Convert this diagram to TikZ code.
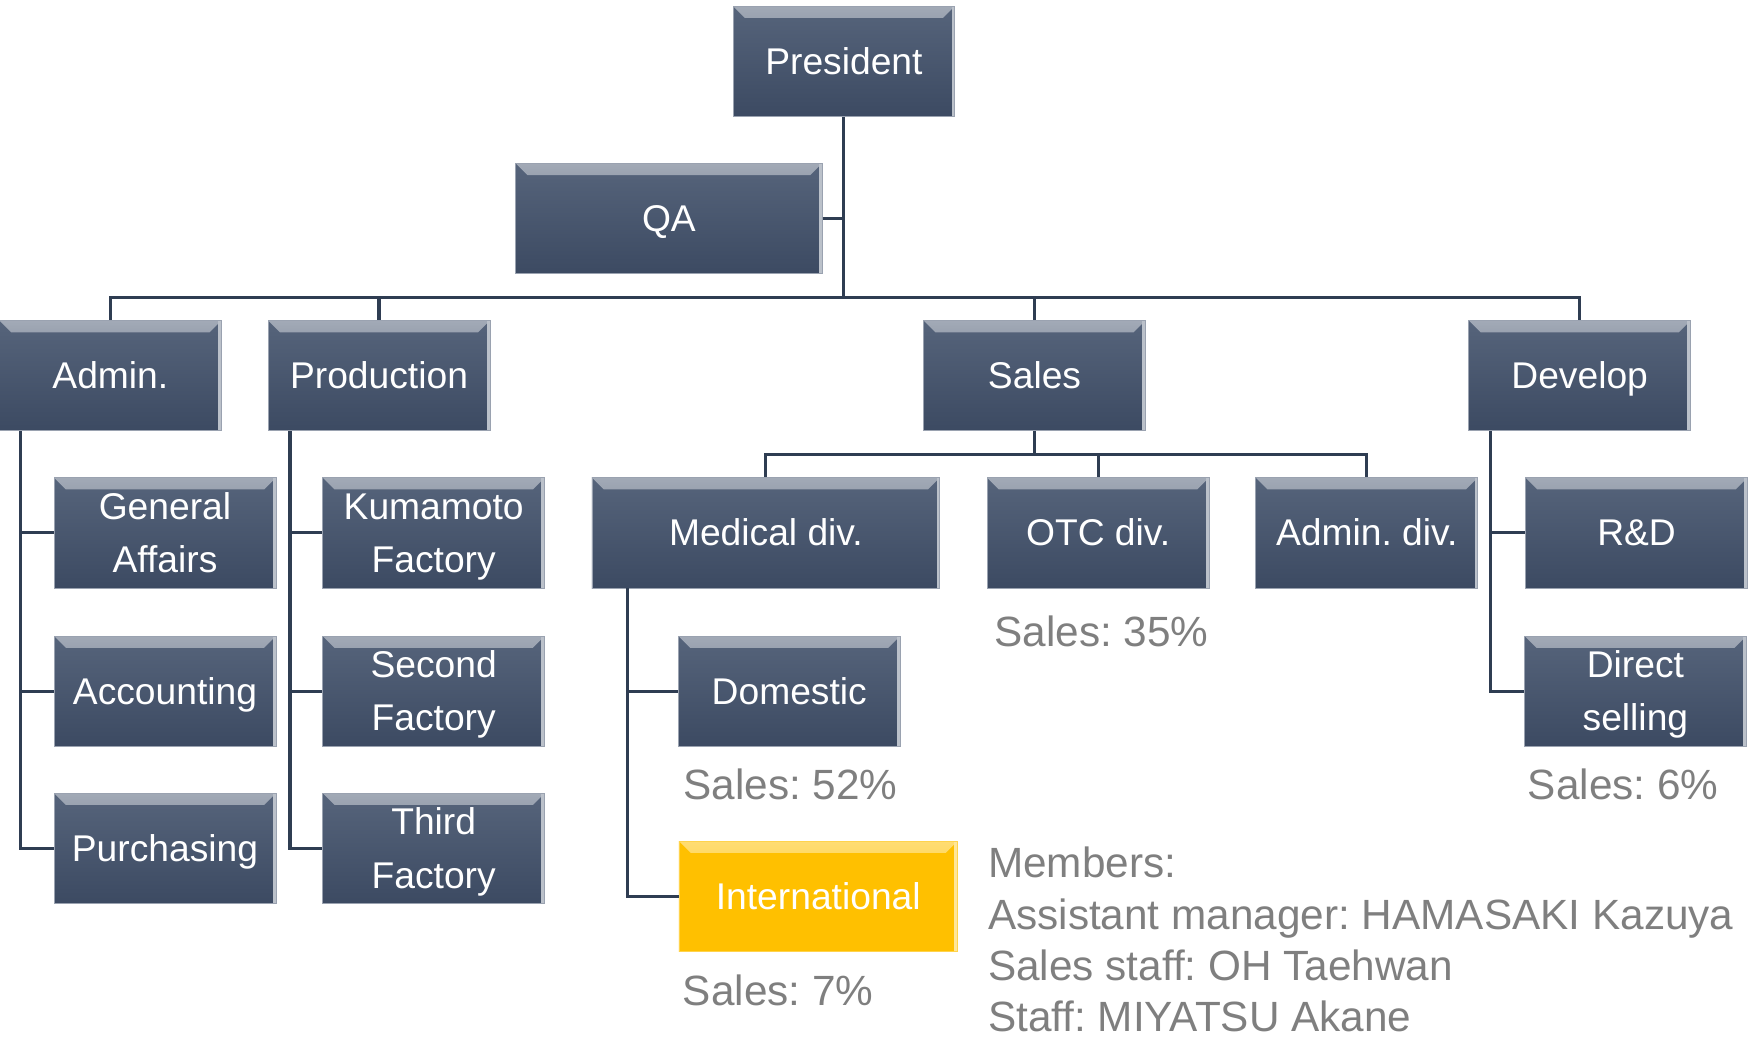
\documentclass[tikz,border=0pt]{standalone}
\usepackage{fontspec}
\setmainfont{Liberation Sans}
\usetikzlibrary{positioning,calc}
\frenchspacing
\definecolor{slate}{HTML}{56647B}
\definecolor{slatedark}{HTML}{3C4A62}
\definecolor{amber}{HTML}{FFC000}
\definecolor{linkcol}{HTML}{2F3D52}
\definecolor{sharegray}{HTML}{7F7F7F}
\newcommand{\boxfont}{\fontsize{19}{27.3}\selectfont}
\newcommand{\sharefont}{\fontsize{21.6}{26.2}\selectfont}
\newcommand{\boxstrut}{\rule[-.212em]{0pt}{1.117em}}
\tikzset{bevel/.style={path picture={
      \shade[top color=#1!55!white, bottom color=#1]
      (path picture bounding box.north west) --
      (path picture bounding box.north east) --
      ([shift={(-6pt,-6pt)}]path picture bounding box.north east) --
      ([shift={(6pt,-6pt)}]path picture bounding box.north west) -- cycle;
      \fill[#1!40!white] ([xshift=-1.6pt]path picture bounding box.north east)
      rectangle (path picture bounding box.south east);}}}

\begin{document}
\begin{tikzpicture}[x=0.02cm,y=-0.02cm]
    \tikzstyle{unit}=[rectangle, minimum width=3.98cm, minimum
    height=1.98cm, inner sep=0pt, align=center, text=white,
    font=\boxfont, top color=slate, bottom color=slatedark,
    draw=slate!60!white, line width=.4pt, bevel=slate,
    execute at begin node=\boxstrut, execute at end node=\boxstrut]
    \tikzstyle{hilite}=[top color=amber, bottom color=amber,
    draw=amber!70!white, bevel=amber]
    \tikzstyle{share}=[text=sharegray, font=\sharefont, inner sep=0pt]
    \tikzstyle{link}=[draw=linkcol, line width=1.6pt]
    \useasboundingbox (0,0) rectangle (1568,931);

    \node[unit] at (757,55) (pres) {President};
    \node[unit, minimum width=5.5cm] at (600,196) (qa) {QA};

    \node[unit] at (99,337) (admin) {Admin.};
    \node[unit] at (340,337) (prod) {Production};
    \node[unit] at (928,337) (sales) {Sales};
    \node[unit] at (1417,337) (dev) {Develop};

    \node[unit] at (148,478) (genaff) {\boxstrut General\\Affairs};
    \node[unit] at (148,620) (acct) {Accounting};
    \node[unit] at (148,761) (purch) {Purchasing};

    \node[unit] at (389,478) (kuma) {\boxstrut Kumamoto\\Factory};
    \node[unit] at (389,620) (second) {\boxstrut Second\\Factory};
    \node[unit] at (389,761) (third) {\boxstrut Third\\Factory};

    \node[unit, minimum width=6.24cm] at (687,478) (medical)
    {Medical div.};
    \node[unit] at (985,478) (otc) {OTC div.};
    \node[unit] at (1226,478) (admdiv) {Admin. div.};
    \node[unit] at (708,620) (domestic) {Domestic};
    \node[unit, hilite, minimum width=5cm] at (734,804) (intl)
    {International};

    \node[unit] at (1468,478) (rnd) {R\&D};
    \node[unit] at (1467,620) (direct) {\boxstrut Direct\\selling};

    \node[share] at (988,566) (otcshare) {Sales: 35\%};
    \node[share] at (709,704) (domshare) {Sales: 52\%};
    \node[share] at (1456,704) (dirshare) {Sales: 6\%};
    \node[share] at (698,888) (intlshare) {Sales: 7\%};
    \node[share, anchor=west, align=left] at (886,843) (members)
    {Members:\\Assistant manager: HAMASAKI Kazuya\\Sales staff: OH
      Taehwan\\Staff: MIYATSU Akane};

    % connectors
    \coordinate (hub) at (757,267);
    \coordinate (salesbus) at (928,408);
    \draw[link] (pres.south) -- (hub);
    \draw[link] (qa.east) -- (qa.east -| hub);
    \foreach \d in {admin,prod,sales,dev}
    \draw[link] (hub) -| (\d.north);
    \draw[link] (sales.south) -- (salesbus);
    \foreach \d in {medical,otc,admdiv}
    \draw[link] (salesbus) -| (\d.north);
    \foreach \d in {genaff,acct,purch}
    \draw[link] ([xshift=.38cm]admin.south west) |- (\d.west);
    \foreach \d in {kuma,second,third}
    \draw[link] ([xshift=.4cm]prod.south west) |- (\d.west);
    \foreach \d in {domestic,intl}
    \draw[link] ([xshift=.64cm]medical.south west) |- (\d.west);
    \foreach \d in {rnd,direct}
    \draw[link] ([xshift=.4cm]dev.south west) |- (\d.west);
  \end{tikzpicture}
\end{document}
